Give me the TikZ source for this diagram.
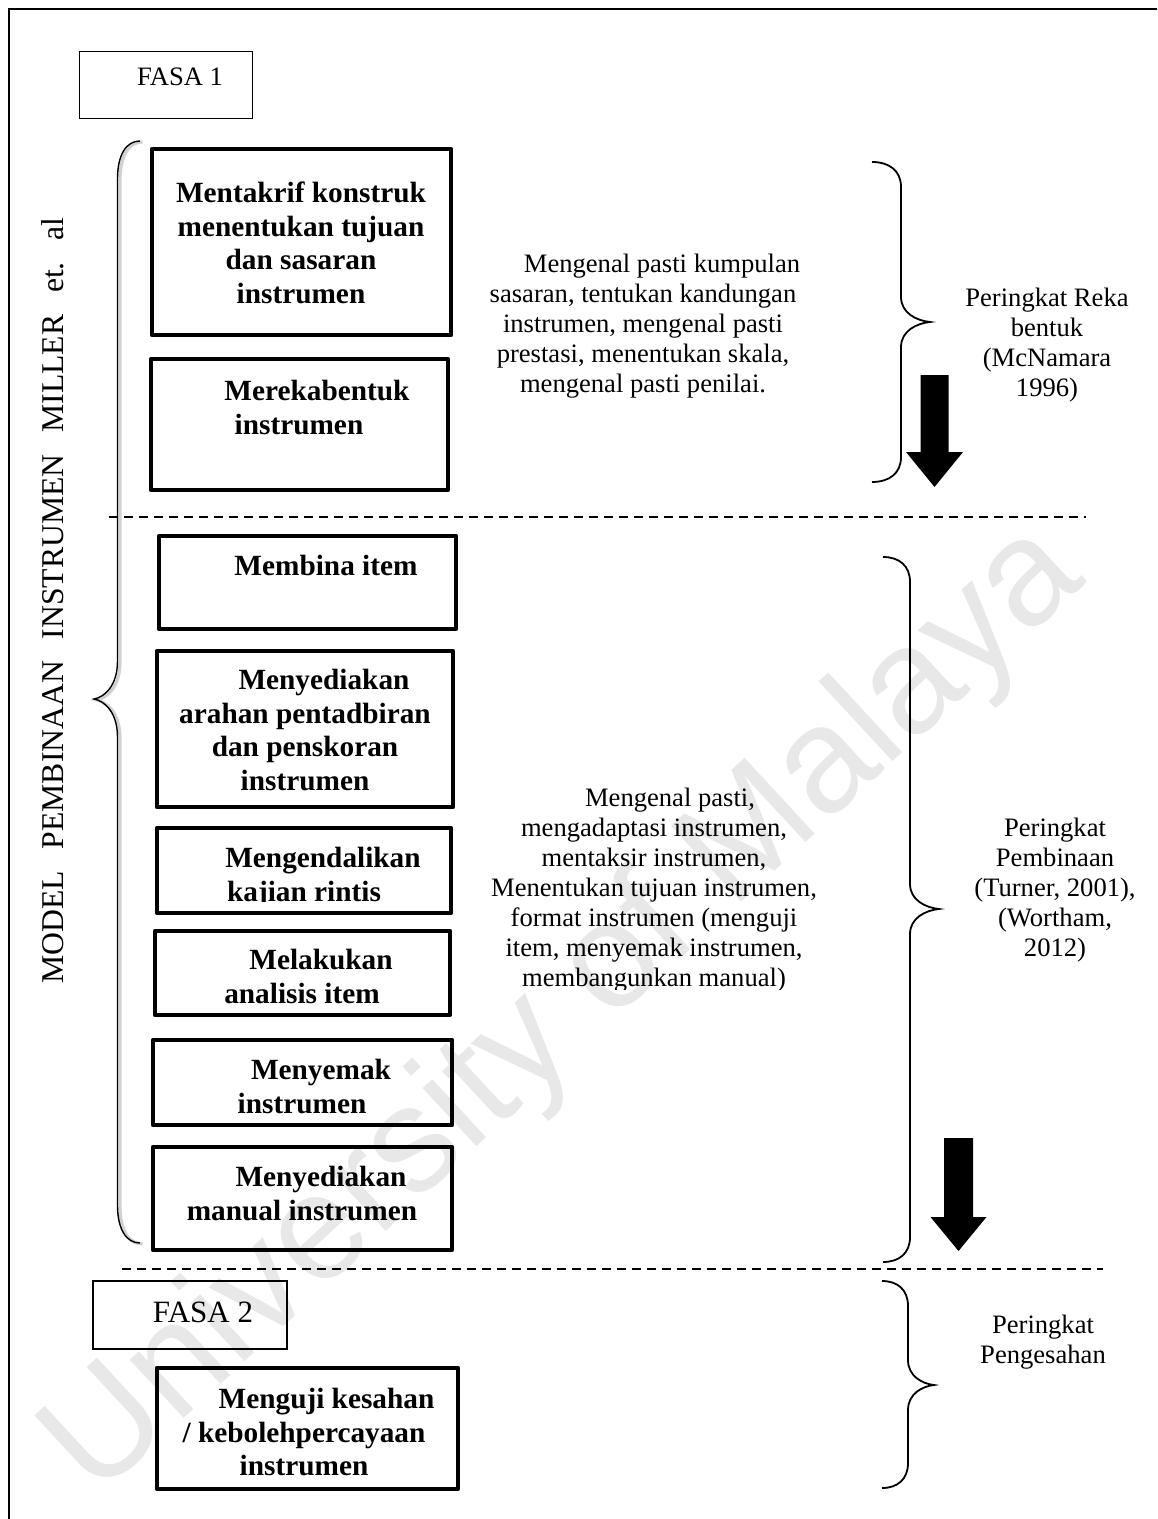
\documentclass[tikz,border=0pt]{standalone}
\usepackage{fontspec}
\setmainfont{Liberation Serif}
\newfontfamily\wmfont{Liberation Sans}
\usetikzlibrary{fit}

% curly brace: #2 end x, #3 stem x, #4 tip x, #5 top y, #6 tip y, #7 bottom y, #8 end curve length
\newcommand\stagebrace[8][]{%
  \draw[#1] (#2,#5) .. controls ({#2+0.6*(#3-#2)},#5) and (#3,{#5+0.35*#8}) .. (#3,{#5+#8})
    -- (#3,{#6-#8}) .. controls (#3,{#6-0.35*#8}) and ({#4-0.45*(#4-#3)},{#6-0.05*#8}) .. (#4,#6)
    .. controls ({#4-0.45*(#4-#3)},{#6+0.05*#8}) and (#3,{#6+0.35*#8}) .. (#3,{#6+#8})
    -- (#3,{#7-#8}) .. controls (#3,{#7-0.35*#8}) and ({#2+0.6*(#3-#2)},#7) .. (#2,#7);%
}

\begin{document}
\begin{tikzpicture}[x=0.5pt,y=-0.5pt,
  stepbox/.style={draw, line width=2.25pt, line join=round, inner sep=0pt},
  phasebox/.style={draw, line width=0.6pt, inner sep=0pt},
  boldtxt/.style={anchor=north, inner sep=0pt, align=center,
    font=\bfseries\fontsize{14.65}{16.85}\selectfont},
  plaintxt/.style={anchor=north, inner sep=0pt, align=center,
    font=\fontsize{13.3}{15}\selectfont},
  divider/.style={line width=1.15pt, dash pattern=on 4.5pt off 3pt},
  bracestroke/.style={line width=0.9pt},
  blockarrow/.style={fill=black}]

\useasboundingbox (0,0) rectangle (1157,1519);
\fill[white] (0,0) rectangle (1157,1519);

% watermark
\node[rotate=42.8, text=black!9, inner sep=0pt,
  font=\wmfont\fontsize{75}{76}\selectfont] (wm) at (566,1012) {University of Malaya};

% page frame (top and left edges)
\draw[line width=1pt] (8.5,1519) -- (8.5,9) -- (1157,9);

% phase labels
\node[phasebox, fit={(79.5,51.5) (252.5,118.5)}] (fasa1) {};
\node[plaintxt] (fasa1t) at (180,64) {\strut FASA 1};
\node[phasebox, fit={(93,1281) (287,1349)}] (fasa2) {};
\node[plaintxt, font=\fontsize{15.5}{15}\selectfont] (fasa2t) at (203,1300.7) {\strut FASA 2};

% vertical model title
\node[rotate=90, anchor=base west, inner sep=0pt,
  font=\fontsize{15.85}{18}\selectfont] (title) at (63.5,984)
  {\hbox to 383pt{MODEL\hfill PEMBINAAN\hfill INSTRUMEN\hfill MILLER\hfill et.\hfill al}};

% left brace grouping the phase 1 steps
\stagebrace[line width=1.6pt, black!18, shift={(2.5,1)}]{140}{117.5}{94}{141}{699}{1243}{38}
\stagebrace[line width=0.7pt]{140}{117.5}{94}{141}{699}{1243}{38}

% step boxes
\node[stepbox, fit={(152,149) (451,335)}] (b1) {};
\node[boldtxt] (t1) at (301,178.4)
  {\strut Mentakrif konstruk\\menentukan tujuan\\dan sasaran\\instrumen};

\node[stepbox, fit={(151,359) (448,490)}] (b2) {};
\node[boldtxt] (t2) at (299,376.4) {\hspace*{18pt}\strut Merekabentuk\\instrumen};

\node[stepbox, fit={(159,536) (456,629)}] (b3) {};
\node[boldtxt] (t3) at (326,551.4) {\strut Membina item};

\node[stepbox, fit={(157,651) (453,807)}] (b4) {};
\node[boldtxt] (t4) at (305,665.4)
  {\hspace*{19pt}\strut Menyediakan\\arahan pentadbiran\\dan penskoran\\instrumen};

\node[stepbox, fit={(157,828) (451,913)}] (b5) {};
\begin{scope}
  \clip (140,820) rectangle (470,901.5);
  \node[boldtxt] (t5) at (304,843.4) {\hspace*{19pt}\strut Mengendalikan\\kajian rintis};
\end{scope}

\node[stepbox, fit={(155,931) (450,1015)}] (b6) {};
\node[boldtxt] (t6) at (302,945.4) {\hspace*{19pt}\strut Melakukan\\analisis item};

\node[stepbox, fit={(153,1040) (452,1125)}] (b7) {};
\node[boldtxt] (t7) at (302,1055.4) {\hspace*{19pt}\strut Menyemak\\instrumen};

\node[stepbox, fit={(153,1147) (452,1250)}] (b8) {};
\node[boldtxt] (t8) at (302,1162.4) {\hspace*{19pt}\strut Menyediakan\\manual instrumen};

\node[stepbox, fit={(157,1368) (458,1489)}] (b9) {};
\node[boldtxt] (t9) at (304,1384.4)
  {\hspace*{22.5pt}\strut Menguji kesahan\\/ kebolehpercayaan\\instrumen};

% descriptions of each stage
\node[plaintxt] (d1) at (643,251)
  {\hspace*{19pt}\strut Mengenal pasti kumpulan\\sasaran, tentukan kandungan\\instrumen, mengenal pasti\\prestasi, menentukan skala,\\mengenal pasti penilai.};
\begin{scope}
  \clip (450,760) rectangle (880,989);
  \node[plaintxt] (d2) at (654,785)
    {\hspace*{16pt}\strut Mengenal pasti,\\mengadaptasi instrumen,\\mentaksir instrumen,\\Menentukan tujuan instrumen,\\format instrumen (menguji\\item, menyemak instrumen,\\membangunkan manual)};
\end{scope}

% stage braces and names
\stagebrace[bracestroke]{872}{901}{930}{162}{322}{482}{25}
\stagebrace[bracestroke]{883}{910}{939}{557}{909}{1262}{25}
\stagebrace[bracestroke]{882}{908}{934}{1281}{1385}{1488}{25}

\node[plaintxt] (s1) at (1047,285) {\strut Peringkat Reka\\bentuk\\(McNamara\\1996)};
\node[plaintxt] (s2) at (1055,815)
  {\strut Peringkat\\Pembinaan\\(Turner, 2001),\\(Wortham,\\2012)};
\node[plaintxt] (s3) at (1043,1312) {\strut Peringkat\\Pengesahan};

% block arrows
\fill[blockarrow] (920.5,375) -- (948.5,375) -- (948.5,452) -- (963,452) -- (934.5,487)
  -- (906,452) -- (920.5,452) -- cycle;
\fill[blockarrow] (944,1138) -- (973,1138) -- (973,1217) -- (986.5,1217) -- (958.5,1251)
  -- (930.5,1217) -- (944,1217) -- cycle;

% dashed dividers
\coordinate (u1) at (109,517);
\coordinate (u2) at (1086,517);
\coordinate (l1) at (122,1269);
\coordinate (l2) at (1103,1269);
\draw[divider] (u1) -- (u2);
\draw[divider] (l1) -- (l2);
\end{tikzpicture}
\end{document}
